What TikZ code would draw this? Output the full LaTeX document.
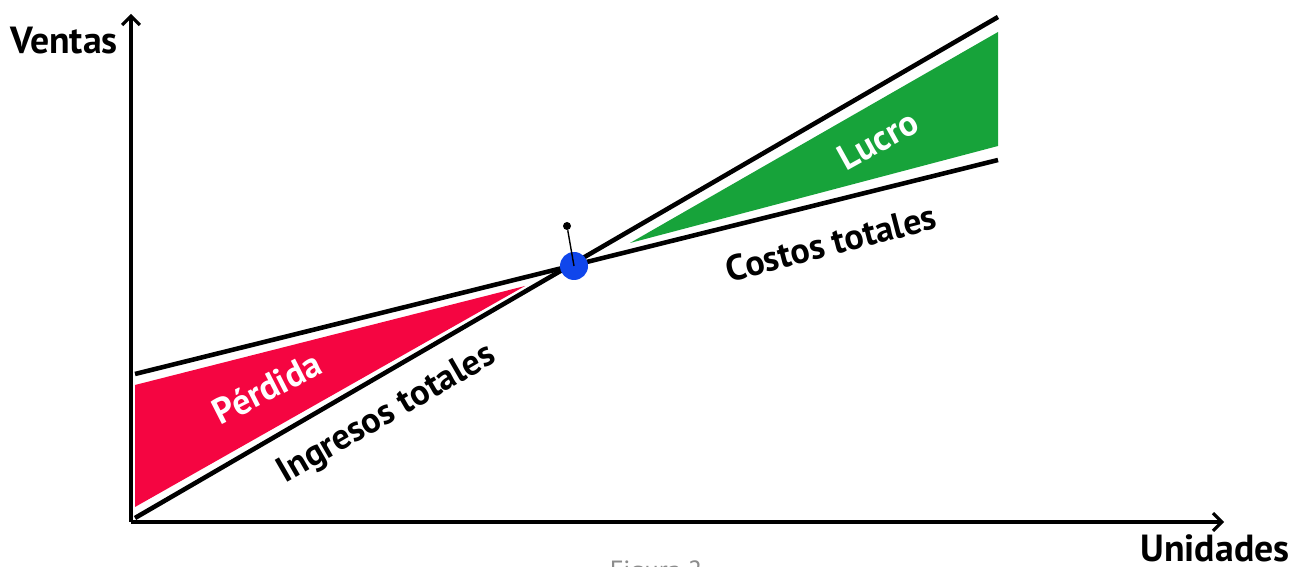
\documentclass[tikz,border=0pt]{standalone}
\usepackage{fontspec}
\setmainfont{PT Sans}
\usetikzlibrary{arrows.meta}
\definecolor{perdida}{RGB}{245,5,65}
\definecolor{lucro}{RGB}{23,163,58}
\definecolor{equilibrio}{RGB}{16,70,235}
\tikzset{
  axislabel/.style={font=\bfseries\fontsize{21.5}{21.5}\selectfont, inner sep=0pt},
  linelabel/.style={font=\bfseries\fontsize{20.5}{20.5}\selectfont, inner sep=0pt},
  arealabel/.style={font=\bfseries\fontsize{20.5}{20.5}\selectfont, text=white, inner sep=0pt},
  recta/.style={line width=2.6pt}
}
\begin{document}
\begin{tikzpicture}[x=0.02cm, y=0.02cm, >={Straight Barb[length=5pt,width=10pt]}]
      \useasboundingbox (0, 0) rectangle (1294, 567);
      \coordinate (O) at (131, 45);
      % areas
      \fill [perdida] (135, 182) -- (525, 281) -- (135, 60) -- cycle;
      \fill [lucro] (630, 324) -- (998, 535) -- (998, 421) -- cycle;
      % axes
      \draw [->, line width=1.8pt] (O) -- (131, 553);
      \draw [->, line width=1.8pt] (O) -- (1224, 45);
      % lines
      \coordinate (it0) at (135, 49);
      \coordinate (it1) at (998, 550);
      \coordinate (ct0) at (135, 193);
      \coordinate (ct1) at (998, 407);
      \draw [recta] (it0) -- (it1);
      \draw [recta] (ct0) -- (ct1);
      % break-even point
      \node (pe) [circle, fill=equilibrio, minimum size=28*0.02cm, inner sep=0pt] at (574, 301) {};
      \node (pin) [circle, fill=black, minimum size=8*0.02cm, inner sep=0pt] at (567, 341) {};
      \draw [line width=0.8pt] (pin) -- (pe.center);
      % labels
      \node (ventas) [axislabel] at (64, 526) {Ventas};
      \node (unidades) [axislabel] at (1215, 19) {Unidades};
      \node (ingresos) [linelabel, rotate=30] at (387, 152) {Ingresos totales};
      \node (costos) [linelabel, rotate=14.5] at (831, 324) {Costos totales};
      \node (lbperdida) [arealabel, rotate=27] at (267, 179) {Pérdida};
      \node (lblucro) [arealabel, rotate=29] at (878, 427) {Lucro};
      \begin{scope}
        \clip (0, 0) rectangle (1294, 567);
        \node (figura) [text=black!45, font=\fontsize{15}{15}\selectfont] at (656, -6) {Figura 2};
      \end{scope}
    \end{tikzpicture}
\end{document}
